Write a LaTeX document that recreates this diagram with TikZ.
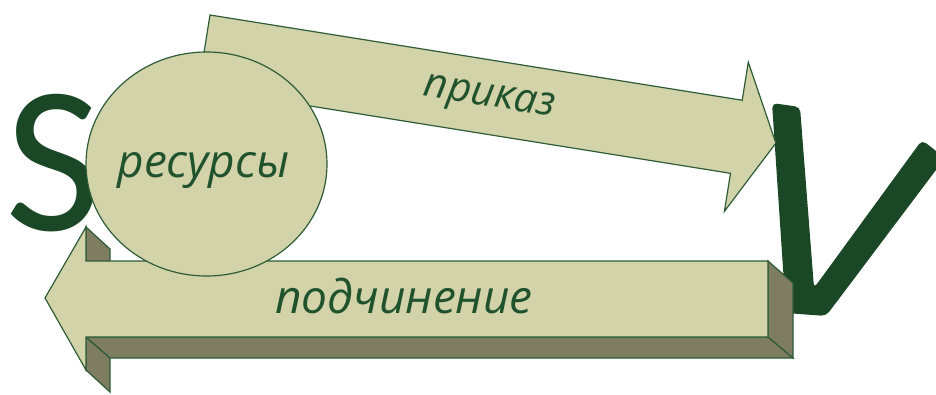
\documentclass[tikz,border=0pt]{standalone}
\usepackage{fontspec}
\setmainfont{Carlito}
\newfontfamily\lblfont{Open Sans}
\usetikzlibrary{shapes.geometric}
\definecolor{lite}{RGB}{210,211,168}
\definecolor{shade}{RGB}{126,125,98}
\definecolor{edge}{RGB}{45,92,55}
\definecolor{ink}{RGB}{26,71,38}
\definecolor{txt}{RGB}{32,82,45}
\begin{document}
\begin{tikzpicture}[x=1pt,y=-1pt,
 face/.style={fill=lite,draw=edge,line width=1.2pt,line join=miter},
 side/.style={fill=shade,draw=edge,line width=1.2pt,line join=miter},
 lbl/.style={text=txt,font=\lblfont\fontsize{46}{46}\selectfont\itshape,inner sep=0pt}]
\useasboundingbox (0,0) rectangle (936,394);
% S
\node[anchor=base west, inner sep=0pt, text=ink, font=\fontsize{210}{210}\selectfont] (S) at (5,230) {S};
% V
\fill[ink, rounded corners=5pt] (772,103) -- (800,107) -- (814,288) -- (922,140) -- (945,158) -- (826,316) -- (786,313) -- cycle;
% top arrow
\begin{scope}[shift={(210,15)}, rotate=-9.1]
\draw[face] (0,0) -- (539,0) -- (539,-38.5) -- (579,37) -- (539,112.5) -- (539,74) -- (0,74) -- cycle;
\node[lbl, font=\lblfont\fontsize{41}{41}\selectfont\itshape, anchor=base, rotate=-9.1] (prikaz) at (289,46) {приказ};
\end{scope}
% bottom 3D arrow
\draw[side] (86,227) -- (110,249) -- (110,283) -- (86,261) -- cycle;
\draw[side] (86,337) -- (110,358) -- (110,392) -- (86,370) -- cycle;
\draw[side] (86,337) -- (768,337) -- (793,358) -- (110,358) -- cycle;
\draw[side] (768,261) -- (793,283) -- (793,358) -- (768,337) -- cycle;
\draw[face] (45,298) -- (86,227) -- (86,261) -- (768,261) -- (768,337) -- (86,337) -- (86,370) -- cycle;
\node[lbl, anchor=base] (podch) at (404,313) {подчинение};
% circle
\node[ellipse, face, minimum width=241pt, minimum height=224pt, inner sep=0pt] (res) at (206.5,164) {};
\node[lbl, anchor=base] (resl) at (203.5,177) {ресурсы};
\end{tikzpicture}
\end{document}
